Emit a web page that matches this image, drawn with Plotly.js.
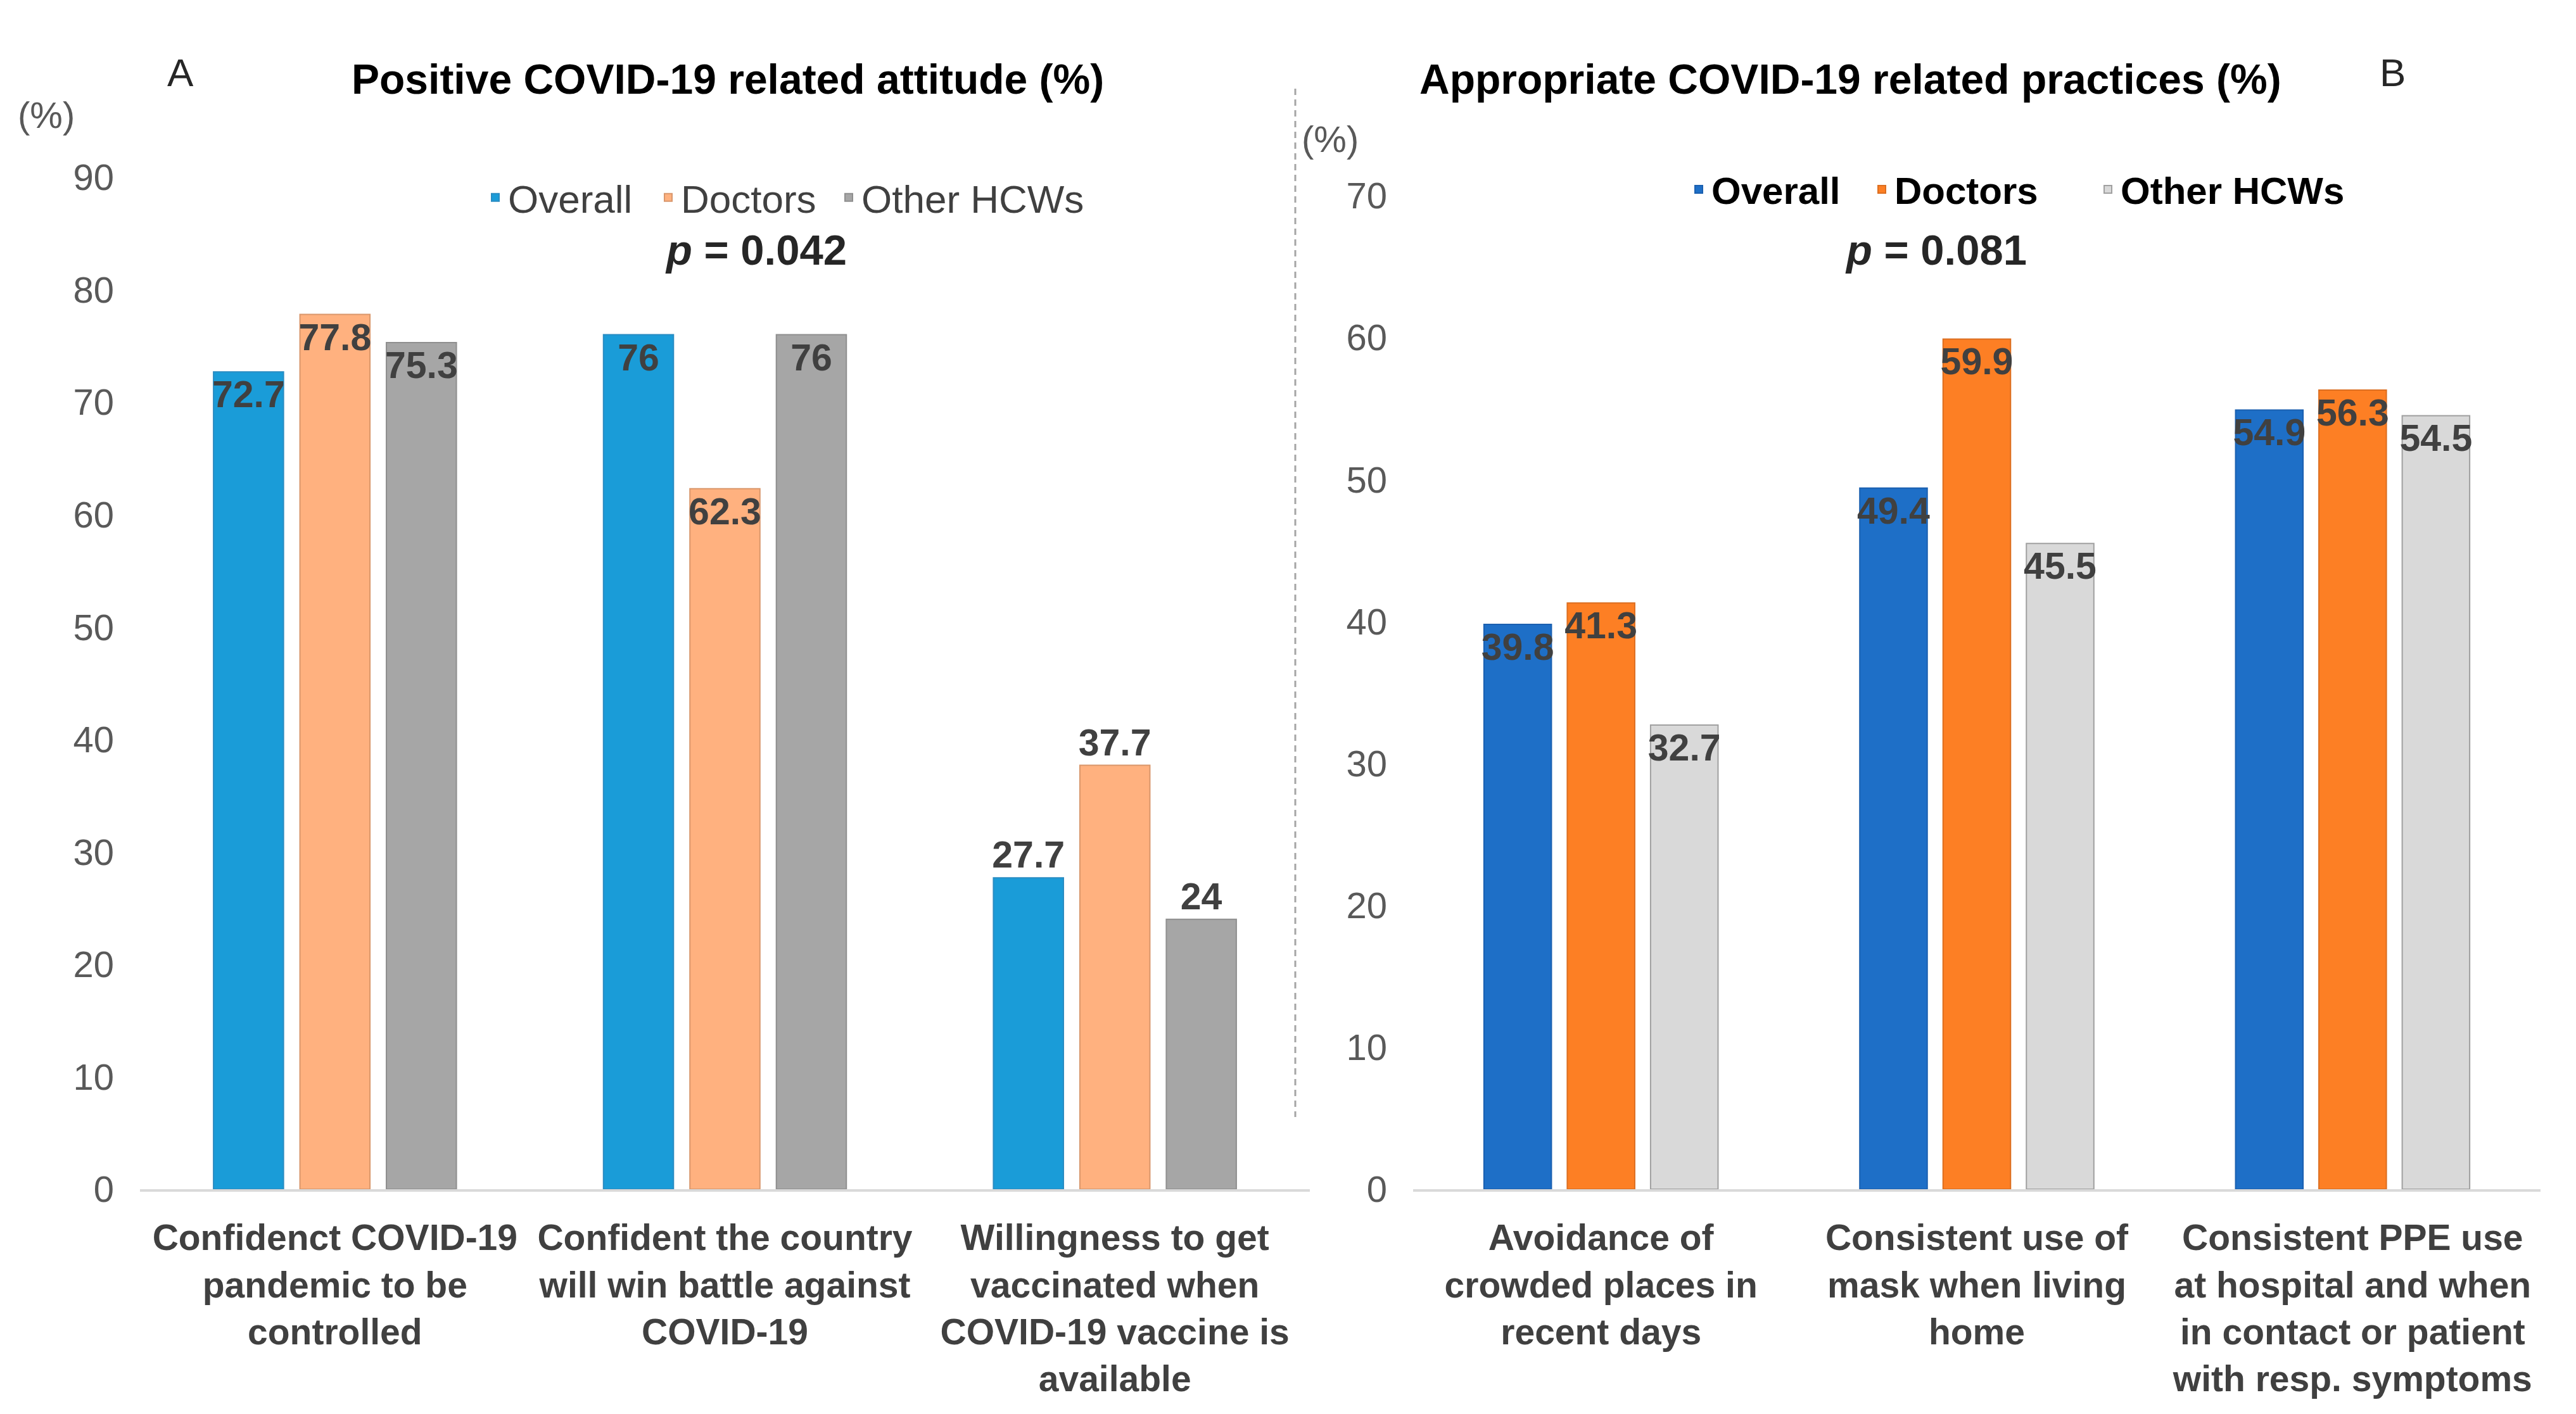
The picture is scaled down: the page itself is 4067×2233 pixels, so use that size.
<!DOCTYPE html>
<html>
<head>
<meta charset="utf-8">
<script src="https://cdn.plot.ly/plotly-3.0.1.min.js"></script>
<style>html,body{margin:0;padding:0;background:#fff;}#chart{width:4067px;height:2233px;}</style>
</head>
<body>
<div id="chart"></div>
<script>
// ---------- DATA ----------
const seriesNames = ['Overall', 'Doctors', 'Other HCWs'];

const attitudeCategories = [
  'Confidenct COVID-19<br>pandemic to be<br>controlled',
  'Confident the country<br>will win battle against<br>COVID-19',
  'Willingness to get<br>vaccinated when<br>COVID-19 vaccine is<br>available'
];
const attitudeOverall = [72.7, 76, 27.7];
const attitudeDoctors = [77.8, 62.3, 37.7];
const attitudeOther   = [75.3, 76, 24];

const practiceCategories = [
  'Avoidance of<br>crowded places in<br>recent days',
  'Consistent use of<br>mask when living<br>home',
  'Consistent PPE use<br>at hospital and when<br>in contact or patient<br>with resp. symptoms'
];
const practiceOverall = [39.8, 49.4, 54.9];
const practiceDoctors = [41.3, 59.9, 56.3];
const practiceOther   = [32.7, 45.5, 54.5];

const titles = ['Positive COVID-19 related attitude (%)', 'Appropriate COVID-19 related practices (%)'];
const panelLetters = ['A', 'B'];
const pValues = ['0.042', '0.081'];
const attitudeTicks = [0, 10, 20, 30, 40, 50, 60, 70, 80, 90];
const practiceTicks = [0, 10, 20, 30, 40, 50, 60, 70];

// ---------- STYLE ----------
const FONT = 'Liberation Sans, Arial, Helvetica, sans-serif';
const W = 4067, H = 2233;
const px = v => v / W;
const py = v => 1 - v / H;

const leftColors  = ['#1a9cd8', '#ffb17f', '#a6a6a6'];
const leftLines   = ['#2a8cc2', '#d9976c', '#8f8f8f'];
const rightColors = ['#1e6fc7', '#fd7f24', '#d9d9d9'];
const rightLines  = ['#1b60b0', '#dc6e20', '#a0a0a0'];

const leftLegendWidths  = [228, 240, null];
const rightLegendWidths = [244, 312, null];

function makeTrace(cats, vals, i, panel) {
  const left = panel === 0;
  const t = {
    type: 'bar',
    name: seriesNames[i],
    x: cats,
    y: vals,
    xaxis: left ? 'x' : 'x2',
    yaxis: left ? 'y' : 'y2',
    legend: left ? 'legend' : 'legend2',
    marker: {
      color: left ? leftColors[i] : rightColors[i],
      line: {color: left ? leftLines[i] : rightLines[i], width: 2}
    },
    text: vals.map(v => String(v)),
    textposition: left ? vals.map(v => v > 50 ? 'inside' : 'outside') : vals.map(() => 'inside'),
    insidetextanchor: 'end',
    textangle: 0,
    constraintext: 'none',
    cliponaxis: false,
    textfont: {family: FONT, size: 59, color: '#404040', weight: 'bold'},
    hoverinfo: 'x+y'
  };
  const lw = left ? leftLegendWidths[i] : rightLegendWidths[i];
  if (lw) t.legendwidth = lw;
  return t;
}

const data = [
  makeTrace(attitudeCategories, attitudeOverall, 0, 0),
  makeTrace(attitudeCategories, attitudeDoctors, 1, 0),
  makeTrace(attitudeCategories, attitudeOther, 2, 0),
  makeTrace(practiceCategories, practiceOverall, 0, 1),
  makeTrace(practiceCategories, practiceDoctors, 1, 1),
  makeTrace(practiceCategories, practiceOther, 2, 1)
];

const xCommon = {
  type: 'category',
  showgrid: false,
  zeroline: false,
  showline: true,
  linecolor: '#d9d9d9',
  linewidth: 4,
  ticks: '',
  ticklabelstandoff: 24,
  tickfont: {family: FONT, size: 57, color: '#404040', weight: 'bold'},
  fixedrange: true
};
const yCommon = {
  showgrid: false,
  zeroline: false,
  showline: false,
  ticks: '',
  ticklabelstandoff: 40,
  tickfont: {family: FONT, size: 58, color: '#595959'},
  fixedrange: true
};

const annText = (text, x, y, font) => ({
  text: text, x: x, y: y, xref: 'paper', yref: 'paper',
  xanchor: 'center', yanchor: 'middle', showarrow: false,
  font: Object.assign({family: FONT, color: '#000000'}, font)
});

const layout = {
  width: W, height: H,
  autosize: false,
  margin: {l: 0, r: 0, t: 0, b: 0},
  paper_bgcolor: '#ffffff',
  plot_bgcolor: '#ffffff',
  barmode: 'group',
  bargap: 0.335,
  bargroupgap: 0.19,
  showlegend: true,
  xaxis: Object.assign({}, xCommon, {domain: [px(221), px(2068)], anchor: 'y'}),
  yaxis: Object.assign({}, yCommon, {domain: [py(1878), py(280)], range: [0, 90], tickvals: attitudeTicks, anchor: 'x'}),
  xaxis2: Object.assign({}, xCommon, {domain: [px(2231), px(4011)], anchor: 'y2'}),
  yaxis2: Object.assign({}, yCommon, {domain: [py(1878), py(309)], range: [0, 70], tickvals: practiceTicks, anchor: 'x2'}),
  legend: {
    orientation: 'h', x: px(762), y: py(312), xanchor: 'left', yanchor: 'middle',
    font: {family: FONT, size: 62, color: '#404040'},
    bgcolor: 'rgba(0,0,0,0)', borderwidth: 0, traceorder: 'normal'
  },
  legend2: {
    orientation: 'h', x: px(2662), y: py(299), xanchor: 'left', yanchor: 'middle',
    font: {family: FONT, size: 60, color: '#000000', weight: 'bold'},
    bgcolor: 'rgba(0,0,0,0)', borderwidth: 0, traceorder: 'normal'
  },
  annotations: [
    annText(titles[0], px(1149), py(125), {size: 66, weight: 'bold'}),
    annText(titles[1], px(2921), py(125), {size: 66, weight: 'bold'}),
    annText(panelLetters[0], px(285), py(114), {size: 62, color: '#262626'}),
    annText(panelLetters[1], px(3777), py(114), {size: 62, color: '#262626'}),
    annText('(%)', px(73), py(182), {size: 58, color: '#595959'}),
    annText('(%)', px(2100), py(220), {size: 58, color: '#595959'}),
    annText('<i>p</i> = ' + pValues[0], px(1193), py(394), {size: 67, color: '#262626', weight: 'bold'}),
    annText('<i>p</i> = ' + pValues[1], px(3056), py(394), {size: 67, color: '#262626', weight: 'bold'})
  ],
  shapes: [
    {type: 'line', xref: 'paper', yref: 'paper', x0: px(2045), x1: px(2045), y0: py(140), y1: py(1764),
     line: {color: '#a6a6a6', width: 3, dash: '10px,7px'}}
  ]
};

Plotly.newPlot('chart', data, layout, {displayModeBar: false, staticPlot: true});
</script>
</body>
</html>
